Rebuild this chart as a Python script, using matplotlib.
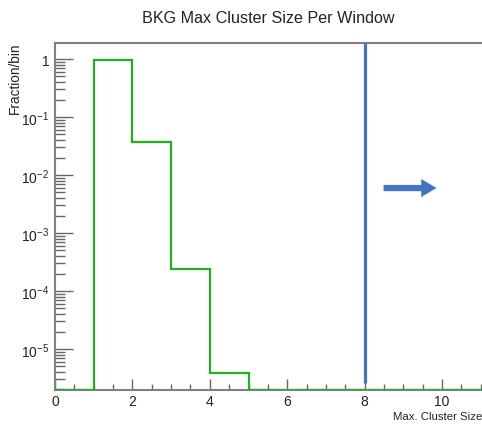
import matplotlib
matplotlib.use('Agg')
import matplotlib.pyplot as plt
from matplotlib.ticker import LogLocator, MultipleLocator, NullFormatter, FixedLocator
from matplotlib.patches import Rectangle
import numpy as np

# Histogram data: max cluster size per window (background)
bin_edges = [0, 1, 2, 3, 4, 5, 6, 7, 8, 9, 10, 11, 12]
fractions = [0, 0.96, 0.037, 2.4e-4, 3.9e-6, 0, 0, 0, 0, 0, 0, 0]
cut_value = 8
y_min, y_max = 1.96e-6, 1.89
x_max = 11.03

y_major = [1e-5, 1e-4, 1e-3, 1e-2, 1e-1, 1]
y_labels = [r'$10^{-5}$', r'$10^{-4}$', r'$10^{-3}$', r'$10^{-2}$', r'$10^{-1}$', '1']

plt.rcParams['font.family'] = ['Liberation Sans', 'DejaVu Sans']
plt.rcParams['mathtext.fontset'] = 'custom'
plt.rcParams['mathtext.rm'] = 'Liberation Sans'
plt.rcParams['mathtext.it'] = 'Liberation Sans'

fig = plt.figure(figsize=(4.82, 4.27), dpi=100)
ax = fig.add_axes([55 / 482, 36 / 427, 427 / 482, 347 / 427])

# zero bins sit on the bottom of the log axis, as ROOT draws them
vals = np.array(fractions, dtype=float)
vals = np.where(vals > 0, vals, y_min)
ax.stairs(vals, bin_edges, color='#22b022', linewidth=1.6, baseline=None, zorder=3)

# selection cut line
ax.plot([cut_value, cut_value], [y_max, 2.6e-6], color='#4472c4', linewidth=2.3,
        solid_capstyle='butt', zorder=4)

ax.set_yscale('log')
ax.set_xlim(0, x_max)
ax.set_ylim(y_min, y_max)

ax.xaxis.set_major_locator(MultipleLocator(2))
ax.xaxis.set_minor_locator(MultipleLocator(0.5))
ax.yaxis.set_major_locator(FixedLocator(y_major))
ax.set_yticklabels(y_labels)
ax.yaxis.set_minor_locator(LogLocator(base=10, subs=np.arange(2, 10)))
ax.yaxis.set_minor_formatter(NullFormatter())

ax.tick_params(axis='both', which='both', direction='in', colors='#666666',
               labelcolor='#222222', labelsize=10)
ax.tick_params(axis='x', which='major', length=8, width=1.0, pad=3)
ax.tick_params(axis='x', which='minor', length=4, width=1.0)
ax.tick_params(axis='y', which='major', length=13, width=1.0, pad=4)
ax.tick_params(axis='y', which='minor', length=7, width=1.0)

for side in ['left', 'top', 'bottom']:
    ax.spines[side].set_color('#808080')
    ax.spines[side].set_linewidth(1.5)
ax.spines['right'].set_visible(False)

# axis titles, ROOT style
fig.text(482, 10, 'Max. Cluster Size', transform=None, ha='right', va='center',
         fontsize=8.2, color='#222222')
fig.text(15, 427 - 43, 'Fraction/bin', transform=None, rotation=90, ha='center',
         va='top', fontsize=9.8, color='#222222')

# arrow pointing to accepted region
ax.annotate('', xy=(0.90, 0.582), xytext=(0.763, 0.582), xycoords='axes fraction',
            arrowprops=dict(arrowstyle='simple,head_length=1.1,head_width=1.3,tail_width=0.45',
                            color='#4472c4', lw=0))

# title with its top cropped off
fig.text(268, 427 - 23, 'BKG Max Cluster Size Per Window', transform=None,
         ha='center', va='baseline', fontsize=11.6, color='#222222', zorder=3)
fig.add_artist(Rectangle((0, 1 - 11.5 / 427), 1, 11.5 / 427, transform=fig.transFigure,
                         facecolor='white', edgecolor='none', zorder=10))

fig.savefig('out.png', dpi=100)
plt.close(fig)
